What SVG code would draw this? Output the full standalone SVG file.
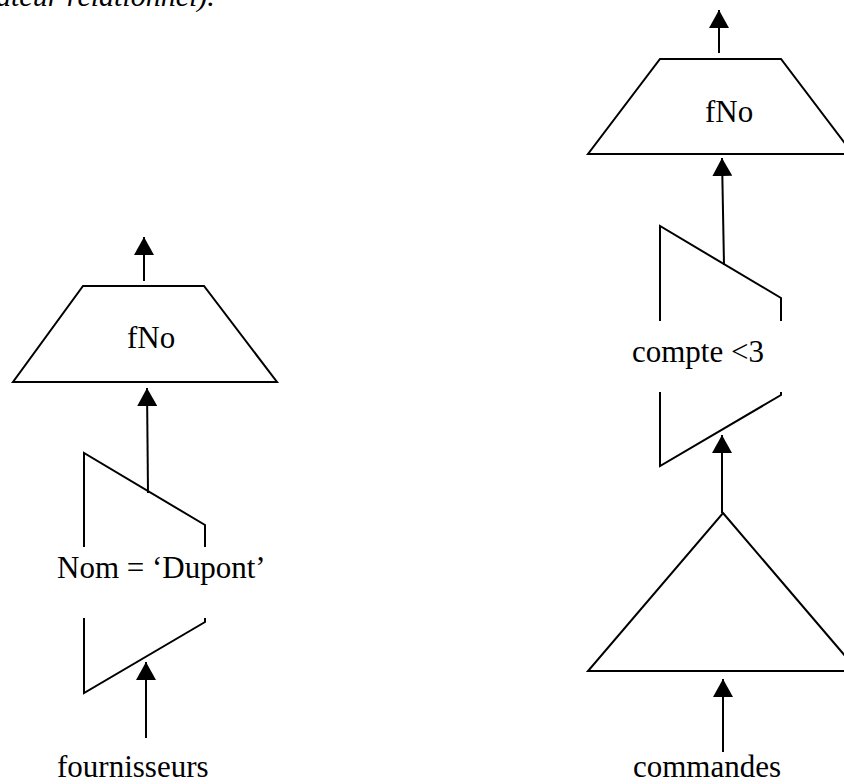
<svg xmlns="http://www.w3.org/2000/svg" width="844" height="784" viewBox="0 0 844 784">
<style>
.s{fill:none;stroke:#000;stroke-width:2;stroke-linejoin:miter}
.c{fill:none;stroke:#000;stroke-width:2}
.t{font-family:"Liberation Serif","Times New Roman",serif;font-size:31px;fill:#000}
.it{font-family:"Liberation Serif","Times New Roman",serif;font-size:30px;font-style:italic;fill:#000}
</style>
<defs>
<marker id="ah" viewBox="0 -10 18 20" refX="18" refY="0" markerWidth="18" markerHeight="20" markerUnits="userSpaceOnUse" orient="auto">
<path d="M0,-10 L18,0 L0,10 z" fill="#000"/>
</marker>
</defs>
<rect width="844" height="784" fill="#fff"/>
<text class="it" x="-4" y="6">ateur relationnel).</text>

<g id="left-projection">
<polygon class="s" points="83,286 204,286 277,382 13,382"/>
<text class="t" x="127" y="348">fNo</text>
</g>
<g id="left-selection">
<polyline class="s" points="84,547 84,453 205,525 205,547"/>
<polyline class="s" points="84,618 84,693 205,622 205,618"/>
<text class="t" x="57" y="578">Nom = ‘Dupont’</text>
</g>
<g id="left-relation">
<text class="t" x="57" y="777">fournisseurs</text>
</g>

<g id="right-projection">
<polygon class="s" points="660,59 781,59 853,154 588,154"/>
<text class="t" x="705" y="122">fNo</text>
</g>
<g id="right-selection">
<polyline class="s" points="660,321 660,226 781,298 781,321"/>
<polyline class="s" points="660,392 660,466 781,395 781,392"/>
<text class="t" x="632" y="362">compte &lt;3</text>
</g>
<g id="right-aggregate">
<polygon class="s" points="723,513 858,671 588,671"/>
</g>
<g id="right-relation">
<text class="t" x="633" y="777">commandes</text>
</g>

<g id="connectors">
<line class="c" x1="144" y1="281" x2="144" y2="237" marker-end="url(#ah)"/>
<line class="c" x1="148" y1="493" x2="147" y2="388" marker-end="url(#ah)"/>
<line class="c" x1="146" y1="738" x2="146" y2="662" marker-end="url(#ah)"/>
<line class="c" x1="719" y1="53" x2="719" y2="10" marker-end="url(#ah)"/>
<line class="c" x1="724" y1="265" x2="722" y2="158" marker-end="url(#ah)"/>
<line class="c" x1="722" y1="513" x2="722" y2="435" marker-end="url(#ah)"/>
<line class="c" x1="723" y1="752" x2="723" y2="679" marker-end="url(#ah)"/>
</g>
</svg>
